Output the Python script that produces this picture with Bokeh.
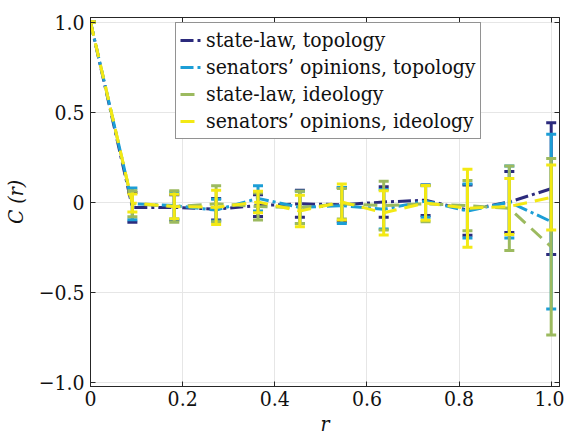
from bokeh.plotting import figure
from bokeh.models import (FixedTicker, LinearAxis, Legend, LegendItem, Range1d,
                          ColumnDataSource)
from bokeh.embed import file_html
from bokeh.resources import INLINE

# ---- data ----
r = [0.0, 0.0909, 0.1818, 0.2727, 0.3636, 0.4545, 0.5455, 0.6364, 0.7273, 0.8182, 0.9091, 1.0]

state_law_topology = [1.0, -0.03, -0.03, -0.04, -0.02, -0.01, -0.015, 0.0, 0.01, -0.045, 0.0, 0.074]
state_law_topology_err = [0.0, 0.083, 0.07, 0.06, 0.06, 0.075, 0.095, 0.085, 0.085, 0.14, 0.17, 0.366]

senators_topology = [1.0, -0.01, -0.02, -0.045, 0.02, -0.03, -0.02, -0.04, 0.005, -0.05, 0.0, -0.109]
senators_topology_err = [0.0, 0.088, 0.075, 0.06, 0.07, 0.09, 0.1, 0.11, 0.09, 0.15, 0.2, 0.485]

state_law_ideology = [1.0, -0.01, -0.025, -0.01, -0.025, -0.03, -0.01, -0.02, -0.01, -0.02, -0.035, -0.249]
state_law_ideology_err = [0.0, 0.072, 0.087, 0.1, 0.075, 0.09, 0.085, 0.135, 0.1, 0.14, 0.235, 0.49]

senators_ideology = [1.0, -0.005, -0.025, -0.03, 0.0, -0.05, 0.0, -0.06, -0.005, -0.035, -0.025, 0.025]
senators_ideology_err = [0.0, 0.05, 0.068, 0.095, 0.06, 0.087, 0.1, 0.123, 0.097, 0.217, 0.155, 0.18]

series_names = ["state-law, topology", "senators\u2019 opinions, topology",
                "state-law, ideology", "senators\u2019 opinions, ideology"]
series_colors = ["#2B2A7C", "#1C9ED6", "#9CBA5F", "#F3E914"]
series_dashes = ["13 4 3 4", "13 4 3 4", "14 8", "14 8"]

x_ticks = [0, 0.2, 0.4, 0.6, 0.8, 1.0]
x_tick_labels = ["0", "0.2", "0.4", "0.6", "0.8", "1.0"]
y_ticks = [-1.0, -0.5, 0, 0.5, 1.0]
y_tick_labels = ["\u22121.0", "\u22120.5", "0", "0.5", "1.0"]

FONT = "DejaVu Serif Condensed"
FSIZE = "21px"
AXC = "#262626"

p = figure(width=564, height=438, x_range=Range1d(0, 1.018), y_range=Range1d(-1.025, 1.025),
           output_backend="svg", toolbar_location=None,
           min_border_left=87, min_border_right=5, min_border_top=17, min_border_bottom=49)
p.background_fill_color = "white"
p.border_fill_color = "white"
p.outline_line_color = AXC
p.outline_line_width = 1

def style_axis(ax, ticks, labels, show_labels=True):
    ax.ticker = FixedTicker(ticks=ticks)
    ax.major_label_overrides = {t: l for t, l in zip(ticks, labels)}
    ax.major_tick_in = 5
    ax.major_tick_out = 0
    ax.minor_tick_in = 0
    ax.minor_tick_out = 0
    ax.axis_line_color = AXC
    ax.major_tick_line_color = AXC
    ax.major_label_text_font = FONT
    ax.major_label_text_color = "#111111"
    if show_labels:
        ax.major_label_text_font_size = FSIZE
        ax.major_label_standoff = 6
    else:
        ax.major_label_text_font_size = "0px"
        ax.major_label_standoff = 0

style_axis(p.xaxis[0], x_ticks, x_tick_labels)
style_axis(p.yaxis[0], y_ticks, y_tick_labels)
p.xaxis[0].major_label_standoff = 4
p.xaxis.axis_label = "r"
p.yaxis.axis_label = "C (r)"
for ax in (p.xaxis[0], p.yaxis[0]):
    ax.axis_label_text_font = FONT
    ax.axis_label_text_font_style = "italic"
    ax.axis_label_text_font_size = FSIZE
    ax.axis_label_text_color = "#111111"
p.xaxis[0].axis_label_standoff = 3
p.yaxis[0].axis_label_standoff = 8

top_ax = LinearAxis()
style_axis(top_ax, x_ticks, [""] * len(x_ticks), show_labels=False)
p.add_layout(top_ax, "above")
right_ax = LinearAxis()
style_axis(right_ax, y_ticks, [""] * len(y_ticks), show_labels=False)
p.add_layout(right_ax, "right")

p.xgrid.ticker = FixedTicker(ticks=x_ticks)
p.ygrid.ticker = FixedTicker(ticks=y_ticks)
p.xgrid.grid_line_color = "#e6e6e6"
p.ygrid.grid_line_color = "#e6e6e6"

means = [state_law_topology, senators_topology, state_law_ideology, senators_ideology]
errs = [state_law_topology_err, senators_topology_err, state_law_ideology_err, senators_ideology_err]

items = []
for name, m, e, c, d in zip(series_names, means, errs, series_colors, series_dashes):
    src = ColumnDataSource(dict(x=r, y=m,
                                lo=[a - b for a, b in zip(m, e)],
                                hi=[a + b for a, b in zip(m, e)]))
    p.segment(x0="x", y0="lo", x1="x", y1="hi", source=src, line_color=c, line_width=3)
    p.scatter(x="x", y="hi", source=src, marker="dash", size=10, line_color=c, line_width=3)
    p.scatter(x="x", y="lo", source=src, marker="dash", size=10, line_color=c, line_width=3)
    ln = p.line(x="x", y="y", source=src, line_color=c, line_width=3, line_dash=d)
    items.append(LegendItem(label=name, renderers=[ln]))

legend = Legend(items=items, location=(85, 247))
legend.label_text_font = FONT
legend.label_text_font_size = FSIZE
legend.label_text_color = "#111111"
legend.glyph_width = 22
legend.glyph_height = 26
legend.label_height = 26
legend.label_standoff = 4
legend.padding = 4
legend.spacing = 1
legend.margin = 0
legend.border_line_color = AXC
legend.border_line_width = 1
legend.background_fill_color = "white"
legend.background_fill_alpha = 1.0
p.add_layout(legend, "center")

open("out.html", "w").write(file_html(p, INLINE))
